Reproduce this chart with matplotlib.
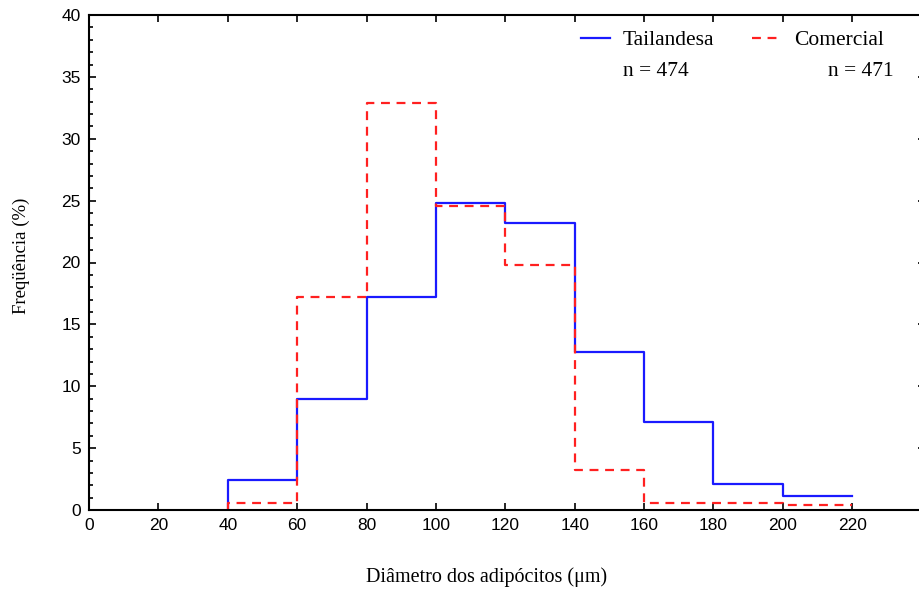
import numpy as np
import matplotlib.pyplot as plt
from matplotlib.ticker import MultipleLocator

# classes de diametro (um) e frequencias (%)
bordas = [40, 60, 80, 100, 120, 140, 160, 180, 200, 220]
tailandesa = [2.4, 9.0, 17.2, 24.8, 23.2, 12.8, 7.1, 2.1, 1.1]
comercial = [0.6, 17.2, 32.9, 24.6, 19.8, 3.2, 0.6, 0.6, 0.4]
n_tai = 474
n_com = 471

serif = 'Liberation Serif'
sans = 'Liberation Sans'
W, H = 919, 591

fig = plt.figure(figsize=(W / 100, H / 100), dpi=100)
ax = fig.add_axes([89 / W, 1 - 510 / H, 836 / W, 495 / H])


def degraus(v):
    x = np.r_[bordas[0], bordas]
    y = np.r_[0, v, v[-1]]
    return x, y


x, y = degraus(tailandesa)
ax.step(x, y, where='post', color='#1a1aff', lw=1.6, label='Tailandesa')
x, y = degraus(comercial)
ax.step(x, y, where='post', color='#ff2020', lw=1.6, dashes=(4, 3), label='Comercial')

ax.set_xlim(0, 241)
ax.set_ylim(0, 40)
ax.set_xticks(range(0, 221, 20))
ax.yaxis.set_major_locator(MultipleLocator(5))
ax.yaxis.set_minor_locator(MultipleLocator(1))
ax.tick_params(which='both', direction='in', top=True, right=True, width=1.2)
ax.tick_params(which='major', length=5, labelsize=12.5, pad=6)
ax.tick_params(which='minor', length=3)
for lb in ax.get_xticklabels() + ax.get_yticklabels():
    lb.set_fontfamily(sans)
for s in ax.spines.values():
    s.set_linewidth(1.5)

ax.set_xlabel('Diâmetro dos adipócitos (μm)', family=serif, fontsize=14.5)
ax.xaxis.set_label_coords((487 - 89) / 836, -(577 - 510) / 495, transform=ax.transAxes)
ax.xaxis.label.set_va('center')
ax.set_ylabel('Freqüência (%)', family=serif, fontsize=13.5)
ax.yaxis.set_label_coords(-(89 - 21) / 836, (510 - 256) / 495, transform=ax.transAxes)
ax.yaxis.label.set_va('center')

leg = fig.legend(*ax.get_legend_handles_labels(), loc='upper left',
                 bbox_to_anchor=(581 / W, 1 - 30 / H), ncol=2, frameon=False,
                 prop={'family': serif, 'size': 15.5}, handlelength=1.35,
                 handletextpad=0.6, columnspacing=1.75, borderpad=0, borderaxespad=0)
fig.text(623 / W, 1 - 72 / H, f'n = {n_tai}', family=serif, fontsize=15.5, va='center')
fig.text(828 / W, 1 - 72 / H, f'n = {n_com}', family=serif, fontsize=15.5, va='center')

fig.savefig('out.png', dpi=100)
